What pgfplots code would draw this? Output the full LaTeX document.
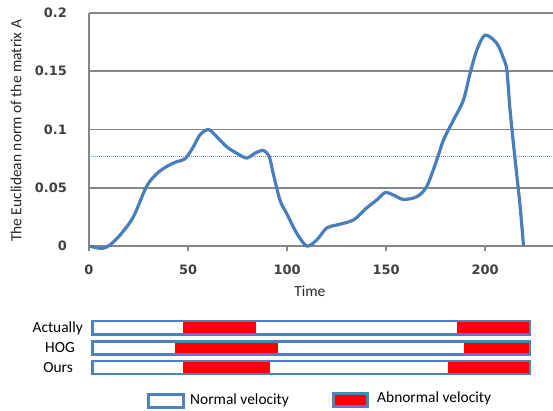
\documentclass[border=0pt]{standalone}
\usepackage{pgfplots}
\pgfplotsset{compat=1.18}
\usepackage{fontspec}
\setmainfont{Carlito}
\newfontfamily\tickfont{DejaVu Sans}

\definecolor{curve}{RGB}{74,126,187}
\definecolor{gridgray}{RGB}{134,134,134}
\definecolor{barblue}{RGB}{79,129,189}
\definecolor{barred}{RGB}{255,0,0}
\definecolor{ticktext}{RGB}{64,64,64}
\newcommand\lbl{\fontsize{15.5}{18}\selectfont}

\begin{document}
\begin{tikzpicture}
\useasboundingbox (0,0) rectangle (553bp,411bp);
% the curve
\begin{axis}[
  at={(89bp,165bp)}, anchor=south west,
  scale only axis, width=464bp, height=233bp,
  xmin=0, xmax=234.3, ymin=0, ymax=0.2,
  clip=false,
  axis x line=bottom, axis y line=left,
  axis line style={gridgray, line width=1.6bp, -},
  xtick={0,50,100,150,200}, xticklabels={0,50,100,150,200},
  ytick={0,0.05,0.1,0.15,0.2}, yticklabels={0,0.05,0.1,0.15,0.2},
  ymajorgrids, major grid style={gridgray, line width=1.6bp},
  tick align=outside, major tick length=5bp,
  xtick style={gridgray, line width=1.6bp},
  ytick style={draw=none},
  tick label style={font=\tickfont\bfseries\fontsize{13}{15}\selectfont, text=ticktext, inner sep=0pt},
  xticklabel style={anchor=center, yshift=-19bp},
  yticklabel style={anchor=east, xshift=-17bp},
  xlabel={Time}, ylabel={The Euclidean norm of the matrix A},
  label style={font=\lbl, text=black!85},
  xlabel style={at={(axis description cs:0.476,-0.196)}, anchor=center},
  ylabel style={at={(axis description cs:-0.157,0.494)}, anchor=center},
]
\addplot[barblue!85, line width=0.9bp, dash pattern=on 1bp off 1bp] coordinates {(0,0.0765) (234.3,0.0765)};
\addplot[curve, line width=3.2bp, smooth, tension=0.5, mark=none] coordinates {
(0,0) (3,-0.0012) (7,-0.002) (10.6,0.0009) (15.7,0.0094) (22.4,0.025) (29,0.051)
(34.2,0.062) (39,0.068) (44.3,0.0724) (48.5,0.0748) (52.7,0.0852) (56,0.0953)
(60.3,0.100) (64.5,0.0938) (69.5,0.0852) (74.6,0.0796) (79.6,0.0755) (83.8,0.0796)
(88,0.082) (91,0.0767) (93,0.0624) (96.5,0.039) (99.8,0.028) (104.9,0.0109)
(110,0) (115,0.0052) (120,0.0155) (125,0.018) (133.5,0.0223) (140,0.0324)
(145.3,0.0395) (149.5,0.0458) (153.7,0.0438) (158.7,0.040) (165.5,0.0423)
(170.5,0.051) (175.6,0.0738) (179,0.091) (184,0.108) (189,0.125) (192.4,0.148)
(195.8,0.168) (200,0.181) (205.9,0.174) (209.3,0.161) (211,0.151) (212.6,0.117)
(215,0.0767) (217.7,0.034) (219.4,0)
};
\end{axis}
% the bars below, in pixel units
\begin{axis}[
  at={(0,0)}, anchor=south west,
  scale only axis, width=553bp, height=411bp,
  xmin=0, xmax=553, ymin=0, ymax=411, y dir=reverse,
  hide axis, clip=false,
]
% white rows
\addplot[fill=white, draw=none] coordinates {(92.5,321) (530,321) (530,334.5) (92.5,334.5)} -- cycle;
\addplot[fill=white, draw=none] coordinates {(92.5,341.5) (530,341.5) (530,354.5) (92.5,354.5)} -- cycle;
\addplot[fill=white, draw=none] coordinates {(92.5,361) (530,361) (530,374) (92.5,374)} -- cycle;
% Actually
\addplot[fill=barred, draw=none] coordinates {(183,321) (256,321) (256,334.5) (183,334.5)} -- cycle;
\addplot[fill=barred, draw=none] coordinates {(457,321) (530,321) (530,334.5) (457,334.5)} -- cycle;
% HOG
\addplot[fill=barred, draw=none] coordinates {(175,341.5) (278,341.5) (278,354.5) (175,354.5)} -- cycle;
\addplot[fill=barred, draw=none] coordinates {(464,341.5) (530,341.5) (530,354.5) (464,354.5)} -- cycle;
% Ours
\addplot[fill=barred, draw=none] coordinates {(183,361) (270,361) (270,374) (183,374)} -- cycle;
\addplot[fill=barred, draw=none] coordinates {(448,361) (530,361) (530,374) (448,374)} -- cycle;
% borders
\addplot[barblue, line width=2.6bp] coordinates {(92.5,321) (530,321) (530,334.5) (92.5,334.5)} -- cycle;
\addplot[barblue, line width=2.6bp] coordinates {(92.5,341.5) (530,341.5) (530,354.5) (92.5,354.5)} -- cycle;
\addplot[barblue, line width=2.6bp] coordinates {(92.5,361) (530,361) (530,374) (92.5,374)} -- cycle;
% legend keys
\addplot[fill=white, draw=barblue, line width=2.6bp] coordinates {(148.5,394.5) (183.5,394.5) (183.5,407.5) (148.5,407.5)} -- cycle;
\addplot[fill=barred, draw=barblue, line width=2.6bp] coordinates {(333.5,393.5) (367.5,393.5) (367.5,406.5) (333.5,406.5)} -- cycle;
\node[anchor=east, font=\lbl, inner sep=0pt] at (axis cs:83,328) {Actually};
\node[anchor=east, font=\lbl, inner sep=0pt] at (axis cs:75,348) {HOG};
\node[anchor=east, font=\lbl, inner sep=0pt] at (axis cs:73,367.5) {Ours};
\node[anchor=west, font=\lbl, inner sep=0pt] at (axis cs:190,400.5) {Normal velocity};
\node[anchor=west, font=\lbl, inner sep=0pt] at (axis cs:377,398.5) {Abnormal velocity};
\end{axis}
\end{tikzpicture}
\end{document}
